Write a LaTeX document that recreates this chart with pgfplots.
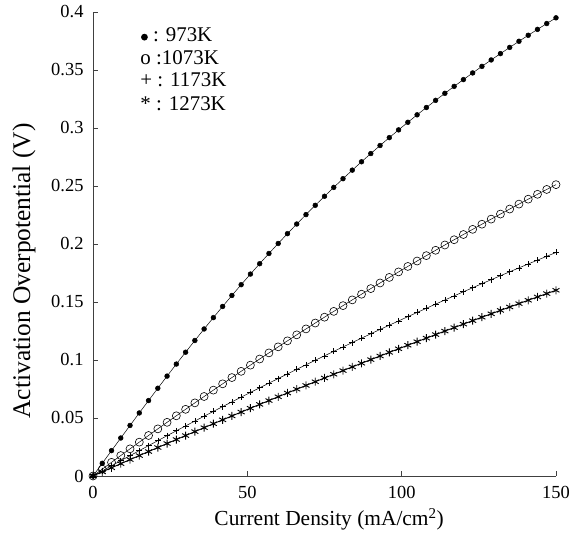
\documentclass[border=0pt]{standalone}
\usepackage{pgfplots}
\pgfplotsset{compat=1.18}
\usepackage{fontspec}
\setmainfont{Liberation Serif}

\newcommand{\bigdot}{\tikz[baseline=-4.6bp]\fill[black] (0,0) circle (3.4bp);}

\begin{document}
\begin{tikzpicture}
\path[use as bounding box] (-93bp,-61bp) rectangle (482bp,476bp);

\begin{axis}[
    scale only axis,
    width=463bp, height=464bp,
    xmin=0, xmax=150,
    ymin=0, ymax=0.4,
    axis x line*=bottom,
    axis y line*=left,
    axis line style={line width=1pt, black!75},
    tick style={black!75, line width=0.8pt},
    tick align=inside,
    major tick length=5bp,
    xtick={0,50,100,150},
    ytick={0,0.05,0.1,0.15,0.2,0.25,0.3,0.35,0.4},
    yticklabels={0,0.05,0.1,0.15,0.2,0.25,0.3,0.35,0.4},
    /pgf/number format/assume math mode=true,
    tick label style={font=\fontsize{18.5}{20}\selectfont},
    yticklabel style={xshift=-6bp},
    xticklabel style={yshift=-7bp},
    xlabel={Current Density (mA/cm\textsuperscript{2})},
    ylabel={Activation Overpotential (V)},
    xlabel style={font=\fontsize{21.5}{24}\selectfont, at={(axis description cs:0.51,-0.093)}, anchor=center},
    ylabel style={font=\fontsize{25.5}{28}\selectfont, at={(axis description cs:-0.149,0.442)}, anchor=center},
    clip=false,
]

% 973K
\addplot[black, line width=0.5pt, mark=*, mark size=2.4bp, mark options={fill=black}]
table{%
x y
0 0
3 0.01094
6 0.02187
9 0.03275
12 0.04359
15 0.05436
18 0.06505
21 0.07564
24 0.08612
27 0.09649
30 0.10672
33 0.11681
36 0.12675
39 0.13654
42 0.14617
45 0.15563
48 0.16493
51 0.17407
54 0.18303
57 0.19183
60 0.20046
63 0.20892
66 0.21722
69 0.22535
72 0.23333
75 0.24114
78 0.24880
81 0.25631
84 0.26368
87 0.27089
90 0.27797
93 0.28491
96 0.29171
99 0.29839
102 0.30493
105 0.31135
108 0.31765
111 0.32383
114 0.32989
117 0.33587
120 0.34172
123 0.34747
126 0.35312
129 0.35867
132 0.36412
135 0.36948
138 0.37475
141 0.37993
144 0.38503
147 0.39005
150 0.39498
};

% 1073K
\addplot[black, line width=0.5pt, mark=o, mark size=4bp, mark options={line width=0.6pt}]
table{%
x y
0 0
3 0.00591
6 0.01179
9 0.01763
12 0.02343
15 0.02919
18 0.03492
21 0.04062
24 0.04628
27 0.05190
30 0.05748
33 0.06303
36 0.06854
39 0.07402
42 0.07946
45 0.08486
48 0.09023
51 0.09556
54 0.10086
57 0.10612
60 0.11134
63 0.11653
66 0.12168
69 0.12679
72 0.13187
75 0.13691
78 0.14191
81 0.14688
84 0.15182
87 0.15671
90 0.16157
93 0.16640
96 0.17119
99 0.17594
102 0.18065
105 0.18533
108 0.18997
111 0.19458
114 0.19915
117 0.20368
120 0.20818
123 0.21264
126 0.21707
129 0.22146
132 0.22581
135 0.23013
138 0.23441
141 0.23865
144 0.24286
147 0.24703
150 0.25117
};

% 1173K
\addplot[black, line width=0.5pt, mark=+, mark size=3bp, mark options={line width=0.6pt}]
table{%
x y
0 0
3 0.00442
6 0.00882
9 0.01320
12 0.01755
15 0.02188
18 0.02619
21 0.03047
24 0.03473
27 0.03897
30 0.04319
33 0.04738
36 0.05154
39 0.05569
42 0.05981
45 0.06391
48 0.06798
51 0.07203
54 0.07606
57 0.08007
60 0.08405
63 0.08801
66 0.09194
69 0.09585
72 0.09974
75 0.10361
78 0.10745
81 0.11127
84 0.11506
87 0.11884
90 0.12259
93 0.12631
96 0.13001
99 0.13369
102 0.13735
105 0.14098
108 0.14459
111 0.14818
114 0.15175
117 0.15529
120 0.15880
123 0.16230
126 0.16577
129 0.16922
132 0.17264
135 0.17604
138 0.17942
141 0.18277
144 0.18610
147 0.18941
150 0.19270
};

% 1273K
\addplot[black, line width=0.9pt, mark=asterisk, mark size=4bp, mark options={line width=0.9pt}]
table{%
x y
0 0
3 0.00355
6 0.00709
9 0.01061
12 0.01412
15 0.01761
18 0.02109
21 0.02455
24 0.02800
27 0.03144
30 0.03486
33 0.03827
36 0.04167
39 0.04505
42 0.04841
45 0.05176
48 0.05510
51 0.05842
54 0.06173
57 0.06503
60 0.06831
63 0.07157
66 0.07482
69 0.07806
72 0.08128
75 0.08449
78 0.08769
81 0.09087
84 0.09404
87 0.09719
90 0.10033
93 0.10345
96 0.10656
99 0.10966
102 0.11274
105 0.11580
108 0.11886
111 0.12190
114 0.12492
117 0.12793
120 0.13093
123 0.13391
126 0.13688
129 0.13983
132 0.14277
135 0.14569
138 0.14860
141 0.15150
144 0.15438
147 0.15725
150 0.16010
};

\node[anchor=west, font=\fontsize{21}{23}\selectfont, inner sep=0pt] at (axis cs:15.5,0.3802) {\bigdot\ : 973K};
\node[anchor=west, font=\fontsize{21}{23}\selectfont, inner sep=0pt] at (axis cs:15.3,0.3603) {o :1073K};
\node[anchor=west, font=\fontsize{21}{23}\selectfont, inner sep=0pt] at (axis cs:15.3,0.3414) {+ : 1173K};
\node[anchor=west, font=\fontsize{21}{23}\selectfont, inner sep=0pt] at (axis cs:15.3,0.3207) {* : 1273K};

\end{axis}
\end{tikzpicture}
\end{document}
